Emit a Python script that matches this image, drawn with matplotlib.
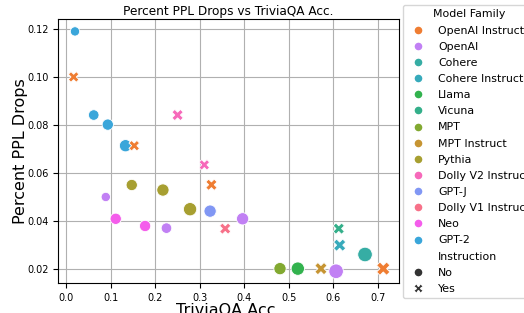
import matplotlib
matplotlib.use("Agg")
import matplotlib.pyplot as plt
from matplotlib.lines import Line2D
import seaborn as sns
import pandas as pd

# data
family = ["GPT-2", "GPT-2", "GPT-2", "GPT-2",
          "OpenAI Instruct", "OpenAI Instruct", "OpenAI Instruct", "OpenAI Instruct",
          "Dolly V2 Instruct", "Dolly V2 Instruct", "Dolly V1 Instruct",
          "Pythia", "Pythia", "Pythia",
          "OpenAI", "OpenAI", "OpenAI", "OpenAI",
          "Neo", "Neo", "GPT-J",
          "Vicuna", "Cohere Instruct", "Cohere", "MPT", "Llama", "MPT Instruct"]
instruct = ["No", "No", "No", "No",
            "Yes", "Yes", "Yes", "Yes",
            "Yes", "Yes", "Yes",
            "No", "No", "No",
            "No", "No", "No", "No",
            "No", "No", "No",
            "Yes", "Yes", "No", "No", "No", "Yes"]
trivia_acc = [0.0195, 0.0616, 0.0932, 0.133,
              0.0165, 0.1526, 0.326, 0.712,
              0.250, 0.310, 0.357,
              0.147, 0.217, 0.278,
              0.0887, 0.225, 0.396, 0.606,
              0.111, 0.177, 0.323,
              0.612, 0.614, 0.671, 0.480, 0.520, 0.572]
ppl_drop = [0.1190, 0.0841, 0.0801, 0.0713,
            0.1000, 0.0713, 0.0550, 0.0200,
            0.0841, 0.0633, 0.0367,
            0.0549, 0.0528, 0.0448,
            0.0499, 0.0369, 0.0408, 0.0189,
            0.0408, 0.0378, 0.0440,
            0.0367, 0.0298, 0.0259, 0.0200, 0.0200, 0.0200]
size_rank = [1, 2, 3, 4,
             2, 2, 3, 5,
             3, 2, 3,
             3, 4, 5,
             1, 2, 4, 6,
             3, 3, 4,
             3, 4, 6, 4, 5, 4]

legend_order = ["OpenAI Instruct", "OpenAI", "Cohere", "Cohere Instruct", "Llama",
                "Vicuna", "MPT", "MPT Instruct", "Pythia", "Dolly V2 Instruct",
                "GPT-J", "Dolly V1 Instruct", "Neo", "GPT-2"]
hue_slot = ["Dolly V1 Instruct", "OpenAI Instruct", "MPT Instruct", "Pythia", "MPT",
            "Llama", "Vicuna", "Cohere", "Cohere Instruct", "GPT-2", "GPT-J",
            "OpenAI", "Neo", "Dolly V2 Instruct"]

pal = sns.husl_palette(14)
colors = {f: pal[i] for i, f in enumerate(hue_slot)}

df = pd.DataFrame({"fam": family, "ins": instruct, "x": trivia_acc,
                   "y": ppl_drop, "sz": size_rank})

fig = plt.figure(figsize=(5.24, 3.13), dpi=100)
ax = fig.add_axes([0.111, 0.095, 0.650, 0.843])

sns.scatterplot(data=df, x="x", y="y", hue="fam", style="ins", size="sz",
                sizes={1: 45, 2: 58, 3: 66, 4: 78, 5: 92, 6: 110},
                palette=colors, markers={"No": "o", "Yes": "X"},
                legend=False, ax=ax, zorder=3)

ax.grid(True, color="#b0b0b0", linewidth=0.8)
ax.set_axisbelow(True)
ax.set_title("Percent PPL Drops vs TriviaQA Acc.", fontsize=8.7, pad=3)
ax.set_xlabel("TriviaQA Acc.", fontsize=11.5, labelpad=0)
ax.set_ylabel("Percent PPL Drops", fontsize=11.5, labelpad=-1)
ax.tick_params(labelsize=7)

handles = []
labels = []
for f in legend_order:
    handles.append(Line2D([], [], marker="o", ls="", color=colors[f],
                          markeredgecolor="w", markersize=6.5))
    labels.append(f)
handles.append(Line2D([], [], ls="", marker=None))
labels.append("Instruction")
handles.append(Line2D([], [], marker="o", ls="", color=".2",
                      markeredgecolor="w", markersize=6.5))
labels.append("No")
handles.append(Line2D([], [], marker="X", ls="", color=".2",
                      markeredgecolor="w", markersize=6.5))
labels.append("Yes")

fig.legend(handles, labels, title="Model Family", loc="upper left",
           bbox_to_anchor=(403 / 524, 1 - 5 / 313), borderaxespad=0,
           fontsize=7.9, title_fontsize=7.9, labelspacing=0.56)

fig.savefig("out.png", dpi=100)
